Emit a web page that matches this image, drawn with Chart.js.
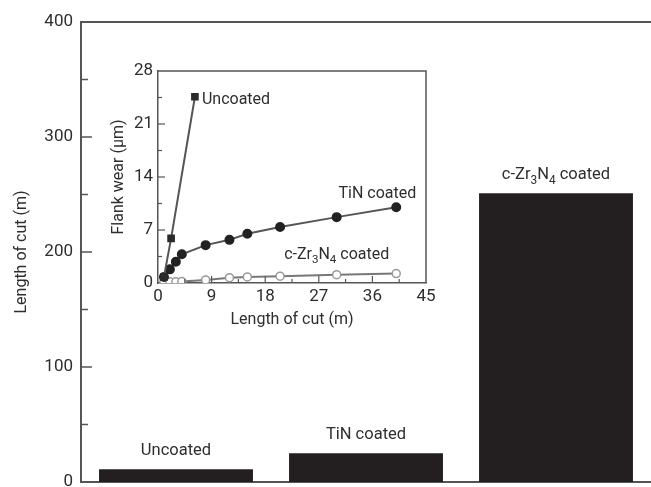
<!DOCTYPE html>
<html>
<head>
<meta charset="utf-8">
<script src="https://cdn.jsdelivr.net/npm/chart.js@4.4.0/dist/chart.umd.min.js"></script>
<style>
  html, body { margin: 0; padding: 0; background: #fff; }
  #wrap { position: relative; width: 651px; height: 487px; }
  #main { position: absolute; left: 0; top: 0; }
  #inset { position: absolute; left: 100px; top: 55px; }
</style>
</head>
<body>
<div id="wrap">
  <canvas id="main" width="651" height="487"></canvas>
  <canvas id="inset" width="340" height="275"></canvas>
</div>
<script>
// main bar chart
const barCategories = ['Uncoated', 'TiN coated', 'c-Zr3N4 coated'];
const barValues = [11, 25, 251];
const mainMajorTicks = [100, 200, 300];
const mainMinorTicks = [50, 150, 250, 350];

// inset: flank wear vs length of cut
const uncoatedX = [1, 2.2, 6.2];
const uncoatedY = [0.8, 5.9, 24.6];
const tinX = [1, 2, 3, 4, 8, 12, 15, 20.5, 30, 40];
const tinY = [0.8, 1.8, 2.8, 3.8, 5.0, 5.7, 6.5, 7.4, 8.7, 10.0];
const zrX = [1, 2, 3, 4, 8, 12, 15, 20.5, 30, 40];
const zrY = [0.2, 0.15, 0.15, 0.2, 0.4, 0.7, 0.8, 0.9, 1.1, 1.25];
const insetXMajor = [9, 18, 27, 36];
const insetXMinor = [4.5, 13.5, 22.5, 31.5, 40.5];
const insetYMajor = [7, 14, 21];
const insetYMinor = [3.5, 10.5, 17.5, 24.5];

const FONT = 'Roboto';
const TEXT = '#2e2e2e';
const AXIS = '#555';

// draws text where a digit following a letter becomes a subscript
function drawRich(ctx, text, x, y, size, align) {
  const parts = [];
  for (let i = 0; i < text.length; i++) {
    const c = text[i];
    const sub = /\d/.test(c) && i > 0 && /[A-Za-z]/.test(text[i - 1]);
    parts.push({ c: c, sub: sub });
  }
  let w = 0;
  parts.forEach(p => {
    ctx.font = (p.sub ? size * 0.72 : size) + 'px ' + FONT;
    p.w = ctx.measureText(p.c).width;
    w += p.w;
  });
  let cx = x;
  if (align === 'center') cx = x - w / 2;
  if (align === 'right') cx = x - w;
  ctx.textBaseline = 'alphabetic';
  ctx.textAlign = 'left';
  parts.forEach(p => {
    ctx.font = (p.sub ? size * 0.72 : size) + 'px ' + FONT;
    ctx.fillText(p.c, cx, p.sub ? y + size * 0.3 : y);
    cx += p.w;
  });
}

function inwardTicks(ctx, scale, values, len, vertical) {
  values.forEach(v => {
    const p = scale.getPixelForValue(v);
    ctx.beginPath();
    if (vertical) {
      ctx.moveTo(scale.right, p);
      ctx.lineTo(scale.right + len, p);
    } else {
      ctx.moveTo(p, scale.top);
      ctx.lineTo(p, scale.top - len);
    }
    ctx.stroke();
  });
}

const mainDecor = {
  id: 'mainDecor',
  afterDatasetsDraw(chart) {
    const ctx = chart.ctx;
    const area = chart.chartArea;
    const y = chart.scales.y;
    ctx.save();
    ctx.strokeStyle = AXIS;
    ctx.lineWidth = 1.5;
    inwardTicks(ctx, y, mainMajorTicks, 11, true);
    inwardTicks(ctx, y, mainMinorTicks, 7, true);
    ctx.lineWidth = 2;
    ctx.beginPath();
    ctx.moveTo(area.left, area.top);
    ctx.lineTo(area.right, area.top);
    ctx.stroke();
    ctx.fillStyle = TEXT;
    const meta = chart.getDatasetMeta(0);
    meta.data.forEach((bar, i) => {
      drawRich(ctx, barCategories[i], bar.x, bar.y - 14, 16.5, 'center');
    });
    ctx.restore();
  }
};

new Chart(document.getElementById('main').getContext('2d'), {
  type: 'bar',
  data: {
    labels: barCategories,
    datasets: [{
      data: barValues,
      backgroundColor: '#231f20',
      barPercentage: 0.81,
      categoryPercentage: 1
    }]
  },
  options: {
    responsive: false,
    animation: false,
    layout: { padding: { top: 22, right: 0, left: 0, bottom: 0 } },
    plugins: { legend: { display: false }, tooltip: { enabled: false } },
    scales: {
      x: {
        grid: { display: false, drawTicks: false },
        border: { display: true, color: AXIS, width: 2 },
        ticks: { display: false },
        afterFit(s) { s.height = 5; }
      },
      y: {
        min: 0,
        max: 400,
        grid: { display: false, drawTicks: false },
        border: { display: true, color: AXIS, width: 2 },
        ticks: { stepSize: 100, padding: 8, color: TEXT, font: { family: FONT, size: 17 } },
        title: {
          display: true,
          text: 'Length of cut (m)',
          color: TEXT,
          font: { family: FONT, size: 16 },
          padding: { top: 12, bottom: 0 }
        },
        afterFit(s) {
          s.width = 81;
          s.paddingTop = 0;
          s.paddingBottom = 0;
        }
      }
    }
  },
  plugins: [mainDecor]
});

const insetDecor = {
  id: 'insetDecor',
  afterDatasetsDraw(chart) {
    const ctx = chart.ctx;
    const area = chart.chartArea;
    const x = chart.scales.x;
    const y = chart.scales.y;
    ctx.save();
    ctx.strokeStyle = AXIS;
    ctx.lineWidth = 1.5;
    ctx.beginPath();
    ctx.moveTo(area.left, area.top);
    ctx.lineTo(area.right, area.top);
    ctx.lineTo(area.right, area.bottom);
    ctx.stroke();
    ctx.lineWidth = 1.2;
    inwardTicks(ctx, x, insetXMajor, 7, false);
    inwardTicks(ctx, x, insetXMinor, 4, false);
    inwardTicks(ctx, y, insetYMajor, 7, true);
    inwardTicks(ctx, y, insetYMinor, 4, true);
    ctx.fillStyle = TEXT;
    const u = uncoatedX.length - 1;
    drawRich(ctx, 'Uncoated', x.getPixelForValue(uncoatedX[u]) + 7,
      y.getPixelForValue(uncoatedY[u]) + 7, 16, 'left');
    const t = tinX.length - 1;
    drawRich(ctx, 'TiN coated', x.getPixelForValue(tinX[t]) + 20,
      y.getPixelForValue(tinY[t]) - 9, 16, 'right');
    drawRich(ctx, 'c-Zr3N4 coated', x.getPixelForValue(zrX[8]),
      y.getPixelForValue(zrY[8]) - 16, 16, 'center');
    ctx.restore();
  }
};

function pts(xs, ys) {
  return xs.map((v, i) => ({ x: v, y: ys[i] }));
}

new Chart(document.getElementById('inset').getContext('2d'), {
  type: 'scatter',
  data: {
    datasets: [
      {
        label: 'Uncoated',
        data: pts(uncoatedX, uncoatedY),
        showLine: true,
        borderColor: '#555',
        borderWidth: 2,
        pointStyle: 'rect',
        pointRadius: 4,
        pointBackgroundColor: '#2a2a2a',
        pointBorderColor: '#2a2a2a'
      },
      {
        label: 'TiN coated',
        data: pts(tinX, tinY),
        showLine: true,
        borderColor: '#555',
        borderWidth: 2,
        pointRadius: 4,
        pointBackgroundColor: '#222',
        pointBorderColor: '#222'
      },
      {
        label: 'c-Zr3N4 coated',
        data: pts(zrX, zrY),
        showLine: true,
        borderColor: '#777',
        borderWidth: 2,
        pointRadius: 4,
        pointBackgroundColor: '#fff',
        pointBorderColor: '#999',
        pointBorderWidth: 1.5
      }
    ]
  },
  options: {
    responsive: false,
    animation: false,
    layout: { padding: { top: 16, right: 14, left: 0, bottom: 0 } },
    plugins: { legend: { display: false }, tooltip: { enabled: false } },
    scales: {
      x: {
        type: 'linear',
        min: 0,
        max: 45,
        grid: { display: false, drawTicks: false },
        border: { display: true, color: AXIS, width: 1.5 },
        ticks: { stepSize: 9, padding: 4, color: TEXT, font: { family: FONT, size: 17 } },
        title: {
          display: true,
          text: 'Length of cut (m)',
          color: TEXT,
          font: { family: FONT, size: 16 },
          padding: 0
        },
        afterFit(s) { s.height = 47; }
      },
      y: {
        min: 0,
        max: 28,
        grid: { display: false, drawTicks: false },
        border: { display: true, color: AXIS, width: 1.5 },
        ticks: { stepSize: 7, padding: 5, color: TEXT, font: { family: FONT, size: 17 } },
        title: {
          display: true,
          text: 'Flank wear (μm)',
          color: TEXT,
          font: { family: FONT, size: 16 },
          padding: { top: 9, bottom: 0 }
        },
        afterFit(s) { s.width = 58; }
      }
    }
  },
  plugins: [insetDecor]
});
</script>
</body>
</html>
